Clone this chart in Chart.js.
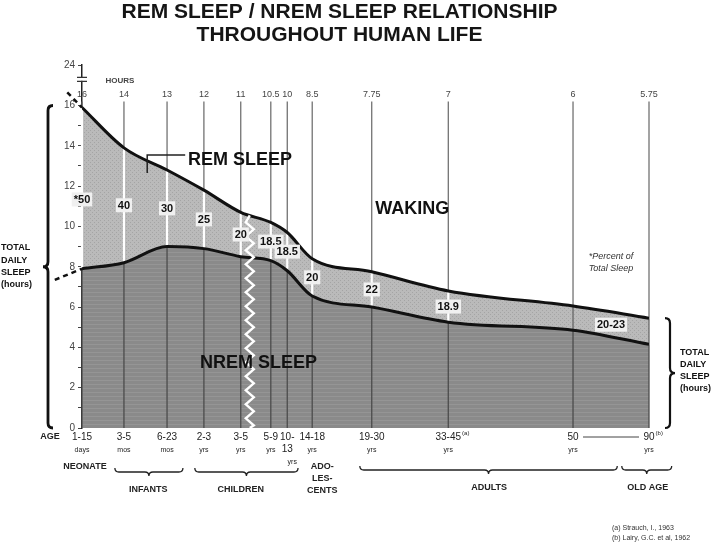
<!DOCTYPE html>
<html>
<head>
<meta charset="utf-8">
<script src="https://cdn.jsdelivr.net/npm/chart.js@4.4.1/dist/chart.umd.min.js"></script>
<style>
  html, body { margin: 0; padding: 0; background: #fff; }
</style>
</head>
<body>
<canvas id="chart" width="720" height="548"></canvas>
<script>
const FONT = '"Liberation Sans", Arial, Helvetica, sans-serif';

// age groups along the (non linear) age axis, 0..100
const ageTop = ['1-15', '3-5', '6-23', '2-3', '3-5', '5-9', '10-', '14-18', '19-30', '33-45', '50', '90'];
const ageUnit = ['days', 'mos', 'mos', 'yrs', 'yrs', 'yrs', '13', 'yrs', 'yrs', 'yrs', 'yrs', 'yrs'];
const ageRef = ['', '', '', '', '', '', '', '', '', '(a)', '', '(b)'];
const agePos = [0, 7.4, 15.0, 21.5, 28.0, 33.3, 36.2, 40.6, 51.1, 64.6, 86.6, 100];
const hourLabels = ['16', '14', '13', '12', '11', '10.5', '10', '8.5', '7.75', '7', '6', '5.75'];

// hours per day
const totalSleep = [15.9, 13.9, 12.8, 11.8, 10.7, 10.2, 9.7, 8.4, 7.75, 6.8, 6.05, 5.45];
const nremSleep = [7.9, 8.2, 9.0, 8.9, 8.5, 8.3, 7.8, 6.55, 6.0, 5.25, 4.85, 4.15];
const remPercent = ['*50', '40', '30', '25', '20', '18.5', '18.5', '20', '22', '18.9', '20-23'];

// dashed lead-in before birth
const leadTotalPos = [-2.6, 0];
const leadTotal = [16.65, 15.9];
const leadNremPos = [-4.8, 0];
const leadNrem = [7.35, 7.9];

const yTicks = [0, 1, 2, 3, 4, 5, 6, 7, 8, 9, 10, 11, 12, 13, 14, 15, 16, 18];

function pattern(base, mark, kind) {
  const c = document.createElement('canvas');
  c.width = 4; c.height = 4;
  const g = c.getContext('2d');
  g.fillStyle = base;
  g.fillRect(0, 0, 4, 4);
  g.fillStyle = mark;
  if (kind === 'rows') {
    g.fillRect(0, 0, 4, 1);
  } else {
    g.fillRect(0, 0, 1, 1);
    g.fillRect(2, 2, 1, 1);
  }
  return g.createPattern(c, 'repeat');
}

const nremFill = pattern('#8a8a8a', '#959595', 'rows');
const remFill = pattern('#bababa', '#a4a4a4', 'dots');

function pts(xs, ys) {
  return xs.map((p, i) => ({ x: p, y: ys[i] }));
}

function hBrace(ctx, x1, x2, yy) {
  const xm = (x1 + x2) / 2;
  ctx.beginPath();
  ctx.moveTo(x1, yy - 4);
  ctx.quadraticCurveTo(x1, yy, x1 + 4, yy);
  ctx.lineTo(xm - 4, yy);
  ctx.quadraticCurveTo(xm, yy, xm, yy + 4);
  ctx.quadraticCurveTo(xm, yy, xm + 4, yy);
  ctx.lineTo(x2 - 4, yy);
  ctx.quadraticCurveTo(x2, yy, x2, yy - 4);
  ctx.stroke();
}

function vBrace(ctx, xx, y1, y2, dir) {
  const ym = (y1 + y2) / 2;
  const d = 5 * dir;
  ctx.beginPath();
  ctx.moveTo(xx - d, y1);
  ctx.quadraticCurveTo(xx, y1, xx, y1 + 5);
  ctx.lineTo(xx, ym - 5);
  ctx.quadraticCurveTo(xx, ym, xx + d, ym);
  ctx.quadraticCurveTo(xx, ym, xx, ym + 5);
  ctx.lineTo(xx, y2 - 5);
  ctx.quadraticCurveTo(xx, y2, xx - d, y2);
  ctx.stroke();
}

const decor = {
  id: 'decor',
  beforeDatasetsDraw(chart) {
    const { ctx, scales: { x, y } } = chart;
    const y0 = y.getPixelForValue(0);
    const yTop = y.getPixelForValue(16.2);
    ctx.save();
    agePos.forEach((p, i) => {
      const px = x.getPixelForValue(p);
      const yT = y.getPixelForValue(totalSleep[i]);
      const yN = y.getPixelForValue(nremSleep[i]);
      const seg = (a, b, col, w) => {
        ctx.strokeStyle = col; ctx.lineWidth = w;
        ctx.beginPath(); ctx.moveTo(px, a); ctx.lineTo(px, b); ctx.stroke();
      };
      seg(yTop, yT, '#666', 1.2);
      if (i < 10) seg(yT, yN, '#fff', 2.2); else seg(yT, yN, '#666', 1.3);
      seg(yN, y0, '#4c4c4c', 1.3);
    });
    ctx.restore();
  },
  afterDatasetsDraw(chart) {
    const { ctx, scales: { x, y } } = chart;
    ctx.save();

    // white zig-zag break between 3-5 and 5-9 yrs
    const zf = 0.3;
    const zx = x.getPixelForValue(agePos[4] + zf * (agePos[5] - agePos[4]));
    const zTop = y.getPixelForValue(totalSleep[4] + zf * (totalSleep[5] - totalSleep[4]));
    const zBot = y.getPixelForValue(0);
    ctx.strokeStyle = '#fff';
    ctx.lineWidth = 2.4;
    ctx.beginPath();
    ctx.moveTo(zx, zTop);
    let k = 0;
    for (let yy = zTop + 7; yy < zBot; yy += 7) {
      ctx.lineTo(zx + (k % 2 === 0 ? -4 : 4), yy);
      k++;
    }
    ctx.lineTo(zx, zBot);
    ctx.stroke();

    // REM percent boxes
    ctx.font = `bold 11px ${FONT}`;
    ctx.textAlign = 'center';
    ctx.textBaseline = 'middle';
    remPercent.forEach((t, i) => {
      let px, mid;
      if (i < 10) {
        px = x.getPixelForValue(agePos[i]);
        const share = i === 0 ? 0.43 : 0.5;
        mid = nremSleep[i] + share * (totalSleep[i] - nremSleep[i]);
      } else {
        px = x.getPixelForValue((agePos[10] + agePos[11]) / 2);
        mid = (totalSleep[10] + nremSleep[10] + totalSleep[11] + nremSleep[11]) / 4;
      }
      const py = y.getPixelForValue(mid);
      const w = ctx.measureText(t).width + 4;
      ctx.fillStyle = '#f0f0f0';
      ctx.fillRect(px - w / 2, py - 7, w, 14);
      ctx.fillStyle = '#111';
      ctx.fillText(t, px, py + 0.5);
    });

    // region names
    ctx.font = `bold 18px ${FONT}`;
    ctx.textAlign = 'left';
    ctx.fillStyle = '#111';
    ctx.fillText('REM SLEEP', x.getPixelForValue(18.7), y.getPixelForValue(13.3));
    ctx.fillText('WAKING', x.getPixelForValue(51.7), y.getPixelForValue(10.85));
    ctx.fillText('NREM SLEEP', x.getPixelForValue(20.8), y.getPixelForValue(3.2));

    ctx.strokeStyle = '#222';
    ctx.lineWidth = 1.5;
    ctx.beginPath();
    ctx.moveTo(x.getPixelForValue(18.2), y.getPixelForValue(13.55));
    ctx.lineTo(x.getPixelForValue(11.5), y.getPixelForValue(13.55));
    ctx.lineTo(x.getPixelForValue(11.5), y.getPixelForValue(12.65));
    ctx.stroke();

    ctx.font = `italic 9px ${FONT}`;
    ctx.textAlign = 'center';
    ctx.fillStyle = '#333';
    ctx.fillText('*Percent of', x.getPixelForValue(93.3), y.getPixelForValue(8.5));
    ctx.fillText('Total Sleep', x.getPixelForValue(93.3), y.getPixelForValue(7.9));
    ctx.restore();
  },
  afterDraw(chart) {
    const { ctx, scales: { x, y } } = chart;
    const yb = y.getPixelForValue(0);
    const ax = x.getPixelForValue(0);
    ctx.save();
    ctx.textBaseline = 'middle';

    // hours row
    ctx.font = `9px ${FONT}`;
    ctx.fillStyle = '#444';
    ctx.textAlign = 'center';
    agePos.forEach((p, i) => {
      ctx.fillText(hourLabels[i], x.getPixelForValue(p), y.getPixelForValue(16.55));
    });
    ctx.font = `bold 8px ${FONT}`;
    ctx.fillText('HOURS', x.getPixelForValue(6.7), y.getPixelForValue(17.25));

    // axis break
    const yBr = y.getPixelForValue(17.3);
    ctx.fillStyle = '#fff';
    ctx.fillRect(ax - 3, yBr - 1.5, 6, 3);
    ctx.strokeStyle = '#333';
    ctx.lineWidth = 1.2;
    ctx.beginPath();
    ctx.moveTo(ax - 5, yBr - 2); ctx.lineTo(ax + 5, yBr - 2);
    ctx.moveTo(ax - 5, yBr + 2); ctx.lineTo(ax + 5, yBr + 2);
    ctx.stroke();

    // age rows
    ctx.fillStyle = '#222';
    ctx.font = `bold 9px ${FONT}`;
    ctx.fillText('AGE', 50, yb + 9);
    agePos.forEach((p, i) => {
      const px = x.getPixelForValue(p);
      ctx.textAlign = 'center';
      ctx.font = `10px ${FONT}`;
      ctx.fillText(ageTop[i], px, yb + 9);
      if (ageRef[i]) {
        const w = ctx.measureText(ageTop[i]).width;
        ctx.font = `6px ${FONT}`;
        ctx.textAlign = 'left';
        ctx.fillText(ageRef[i], px + w / 2 + 1, yb + 5);
        ctx.textAlign = 'center';
      }
      const big = /\d/.test(ageUnit[i]);
      ctx.font = big ? `10px ${FONT}` : `7px ${FONT}`;
      ctx.fillText(ageUnit[i], px, yb + (big ? 21 : 22));
    });
    ctx.font = `7px ${FONT}`;
    ctx.fillText('yrs', x.getPixelForValue(agePos[6]) + 5, yb + 34);

    ctx.strokeStyle = '#444';
    ctx.lineWidth = 1;
    ctx.beginPath();
    ctx.moveTo(x.getPixelForValue(agePos[10]) + 10, yb + 9);
    ctx.lineTo(x.getPixelForValue(agePos[11]) - 10, yb + 9);
    ctx.stroke();

    // life stages
    ctx.font = `bold 9px ${FONT}`;
    ctx.fillStyle = '#222';
    ctx.strokeStyle = '#222';
    ctx.lineWidth = 1.3;
    ctx.fillText('NEONATE', ax + 3, yb + 39);
    hBrace(ctx, x.getPixelForValue(5.8), x.getPixelForValue(17.8), yb + 44);
    ctx.fillText('INFANTS', x.getPixelForValue(11.7), yb + 62);
    hBrace(ctx, x.getPixelForValue(19.9), x.getPixelForValue(38.1), yb + 44);
    ctx.fillText('CHILDREN', x.getPixelForValue(28.0), yb + 62);
    const adoX = x.getPixelForValue(agePos[7]) + 10;
    ctx.fillText('ADO-', adoX, yb + 39);
    ctx.fillText('LES-', adoX, yb + 51);
    ctx.fillText('CENTS', adoX, yb + 63);
    hBrace(ctx, x.getPixelForValue(49), x.getPixelForValue(94.4), yb + 42);
    ctx.fillText('ADULTS', x.getPixelForValue(71.8), yb + 60);
    hBrace(ctx, x.getPixelForValue(95.2), x.getPixelForValue(104), yb + 42);
    ctx.fillText('OLD AGE', x.getPixelForValue(99.8), yb + 60);

    // side braces
    ctx.lineWidth = 2.8;
    ctx.strokeStyle = '#111';
    vBrace(ctx, 48, y.getPixelForValue(16), yb, -1);
    ctx.lineWidth = 2.2;
    vBrace(ctx, 670, y.getPixelForValue(totalSleep[11]), yb, 1);

    ctx.font = `bold 9px ${FONT}`;
    ctx.textAlign = 'left';
    ctx.fillStyle = '#111';
    ['TOTAL', 'DAILY', 'SLEEP', '(hours)'].forEach((t, i) => {
      ctx.fillText(t, 1, 248 + i * 12.3);
      ctx.fillText(t, 680, 353 + i * 12);
    });

    // references
    ctx.font = `7px ${FONT}`;
    ctx.fillStyle = '#333';
    ctx.fillText('(a) Strauch, I., 1963', 612, 528);
    ctx.fillText('(b) Lairy, G.C. et al, 1962', 612, 538);
    ctx.restore();
  }
};

new Chart(document.getElementById('chart'), {
  type: 'line',
  data: {
    datasets: [
      {
        label: 'NREM sleep',
        data: pts(agePos, nremSleep),
        borderColor: '#111',
        borderWidth: 3,
        backgroundColor: nremFill,
        fill: 'origin',
        pointRadius: 0,
        cubicInterpolationMode: 'monotone'
      },
      {
        label: 'Total sleep',
        data: pts(agePos, totalSleep),
        borderColor: '#111',
        borderWidth: 3,
        backgroundColor: remFill,
        fill: '-1',
        pointRadius: 0,
        cubicInterpolationMode: 'monotone'
      },
      {
        label: 'lead total',
        data: pts(leadTotalPos, leadTotal),
        borderColor: '#111',
        borderWidth: 2.5,
        borderDash: [5, 4],
        fill: false,
        pointRadius: 0,
        clip: false
      },
      {
        label: 'lead nrem',
        data: pts(leadNremPos, leadNrem),
        borderColor: '#111',
        borderWidth: 2.5,
        borderDash: [5, 4],
        fill: false,
        pointRadius: 0,
        clip: false
      }
    ]
  },
  options: {
    responsive: false,
    animation: false,
    layout: { padding: { left: 30, right: 71, top: 0, bottom: 120 } },
    scales: {
      x: { type: 'linear', min: 0, max: 100, display: false },
      y: {
        min: 0,
        max: 18,
        afterFit: (scale) => { scale.width = 52; },
        afterBuildTicks: (scale) => { scale.ticks = yTicks.map(v => ({ value: v })); },
        ticks: {
          font: { family: FONT, size: 10 },
          color: '#444',
          padding: 3,
          callback: (v) => v === 18 ? '24' : (v % 2 === 0 ? String(v) : '')
        },
        grid: { drawOnChartArea: false, drawTicks: true, tickLength: 4, color: '#444' },
        border: { display: true, color: '#222', width: 1.5 }
      }
    },
    plugins: {
      legend: { display: false },
      tooltip: { enabled: false },
      filler: { drawTime: 'beforeDatasetsDraw' },
      title: {
        display: true,
        text: ['REM SLEEP / NREM SLEEP RELATIONSHIP', 'THROUGHOUT HUMAN LIFE'],
        font: { family: FONT, size: 21, weight: 'bold', lineHeight: 1.1 },
        color: '#151515',
        padding: { top: 1, bottom: 18 }
      }
    }
  },
  plugins: [decor]
});
</script>
</body>
</html>
